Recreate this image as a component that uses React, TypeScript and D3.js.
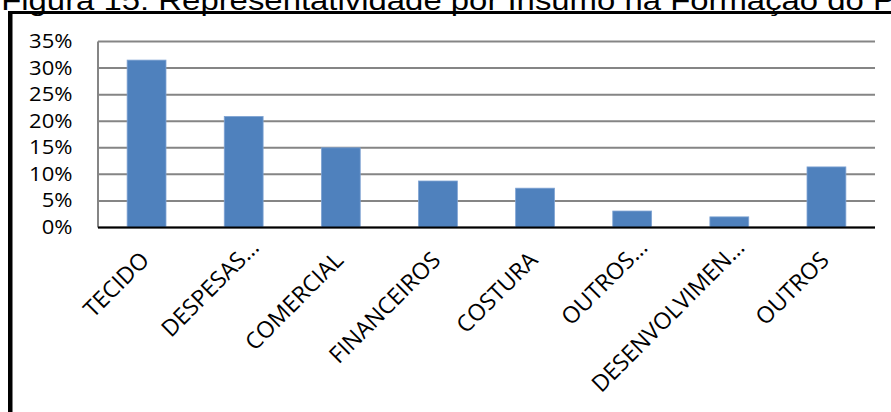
import React from "react";
import * as d3 from "d3";

const categories = ["TECIDO", "DESPESAS…", "COMERCIAL", "FINANCEIROS", "COSTURA", "OUTROS…", "DESENVOLVIMEN…", "OUTROS"];
const values = [0.315, 0.209, 0.150, 0.0875, 0.074, 0.031, 0.020, 0.114];
const yTicks = [0, 0.05, 0.1, 0.15, 0.2, 0.25, 0.3, 0.35];
const title = "Figura 15: Representatividade por Insumo na Formação do Preço";

const W = 891;
const H = 412;
const plot = { left: 98, right: 875, top: 41.5, bottom: 227.5 };

export default function App() {
  const x = d3
    .scaleBand<string>()
    .domain(categories)
    .range([plot.left, plot.right])
    .paddingInner(0.6)
    .paddingOuter(0.3);
  const y = d3.scaleLinear().domain([0, 0.35]).range([plot.bottom, plot.top]);
  const fmt = d3.format(".0%");

  return (
    <svg
      width={W}
      height={H}
      style={{ position: "absolute", left: 0, top: 0, background: "#fff" }}
    >
      <rect x={0} y={0} width={W} height={H} fill="#fff" />
      <text
        x={1}
        y={10}
        fontFamily="'Liberation Sans', Arial, sans-serif"
        fontSize={28}
        transform="scale(1.175,1)"
        fill="#000"
      >
        {title}
      </text>
      {/* frame */}
      <rect x={8} y={11} width={W} height={3} fill="#000" />
      <rect x={8} y={11} width={4.5} height={H} fill="#000" />

      {/* gridlines */}
      {yTicks.map((t) => (
        <line
          key={"g" + t}
          x1={plot.left}
          x2={plot.right}
          y1={y(t)}
          y2={y(t)}
          stroke="#858585"
          strokeWidth={2}
        />
      ))}
      <line x1={plot.left} x2={plot.left} y1={plot.top} y2={plot.bottom} stroke="#858585" strokeWidth={2} />

      {/* bars */}
      {categories.map((c, i) => (
        <rect
          key={"b" + c + i}
          x={x(c)}
          y={y(values[i])}
          width={x.bandwidth()}
          height={y(0) - y(values[i])}
          fill="#4F81BD"
          stroke="#7FA3D3"
          strokeWidth={0.8}
        />
      ))}
      <line x1={plot.left} x2={plot.right} y1={plot.bottom} y2={plot.bottom} stroke="#000" strokeWidth={2} />

      {/* y labels */}
      {yTicks.map((t) => (
        <text
          key={"y" + t}
          transform={`translate(72.5,${y(t) + 6.5}) scale(1.13,1)`}
          textAnchor="end"
          fontFamily="'Open Sans', sans-serif"
          fontSize={19.5}
          fill="#000"
        >
          {fmt(t)}
        </text>
      ))}

      {/* x labels */}
      {categories.map((c, i) => {
        const cx = (x(c) as number) + x.bandwidth() / 2;
        const trunc = c.endsWith("…");
        const base = trunc ? c.slice(0, -1) : c;
        const tf = `translate(${cx + 4},${plot.bottom + 34}) rotate(-45)`;
        return (
          <g key={"x" + c + i} transform={tf}>
            <text textAnchor="end" fontFamily="'Open Sans', sans-serif" fontSize={23} fill="#000">
              {base}
            </text>
            {trunc && (
              <text textAnchor="start" fontFamily="'Open Sans', sans-serif" fontSize={23} fill="#000">
                …
              </text>
            )}
          </g>
        );
      })}
    </svg>
  );
}
